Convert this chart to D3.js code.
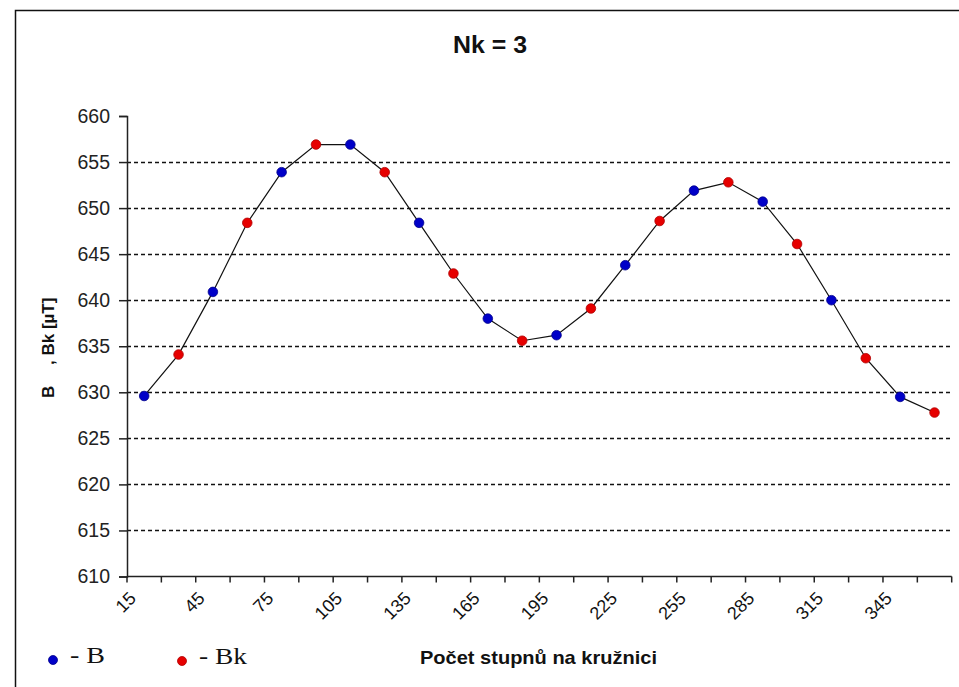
<!DOCTYPE html>
<html>
<head>
<meta charset="utf-8">
<script src="https://cdn.jsdelivr.net/npm/d3@7"></script>
<style>
  html, body { margin: 0; padding: 0; background: #fff; }
  svg { display: block; }
</style>
</head>
<body>
<svg id="chart" width="959" height="687"></svg>
<script>
// Angle on the circle (degrees), one category every 15°
const angles = [15, 30, 45, 60, 75, 90, 105, 120, 135, 150, 165, 180,
                195, 210, 225, 240, 255, 270, 285, 300, 315, 330, 345, 360];
// Measured field B (odd positions: 15, 45, 75, ...)
const valuesB  = [629.6, 640.9, 653.9, 656.9, 648.4, 638.0,
                  636.2, 643.8, 651.9, 650.7, 640.0, 629.5];
// Computed field Bk (even positions: 30, 60, 90, ...)
const valuesBk = [634.1, 648.4, 656.9, 653.9, 642.9, 635.6,
                  639.1, 648.6, 652.8, 646.1, 633.7, 627.8];
const yTicks = [610, 615, 620, 625, 630, 635, 640, 645, 650, 655, 660];
const xTickLabels = [15, 45, 75, 105, 135, 165, 195, 225, 255, 285, 315, 345];

const title = "Nk = 3";
const xTitle = "Počet stupnů na kružnici";

const colorB = "#0000c8";
const colorBk = "#e60000";

// Interleave both series along the angle axis
const points = angles.map((a, i) => ({
  angle: a,
  value: i % 2 === 0 ? valuesB[i / 2] : valuesBk[(i - 1) / 2],
  series: i % 2 === 0 ? "B" : "Bk"
}));

const svg = d3.select("#chart");

// Outer frame
svg.append("rect")
  .attr("x", 15.5).attr("y", 10.5)
  .attr("width", 1000).attr("height", 1000)
  .attr("fill", "#fff").attr("stroke", "#111").attr("stroke-width", 1.5);

const plot = { left: 127, right: 951.7, top: 116, bottom: 576.5 };

const x = d3.scaleBand().domain(angles).range([plot.left, plot.right]).padding(0);
const y = d3.scaleLinear().domain([610, 660]).range([plot.bottom, plot.top]);
const cx = d => x(d) + x.bandwidth() / 2;

// Dashed horizontal gridlines
svg.append("g")
  .selectAll("line")
  .data(yTicks.filter(t => t > 610 && t < 660))
  .join("line")
  .attr("x1", plot.left).attr("x2", plot.right)
  .attr("y1", d => Math.round(y(d)) + 0.5).attr("y2", d => Math.round(y(d)) + 0.5)
  .attr("stroke", "#111").attr("stroke-width", 1.3)
  .attr("stroke-dasharray", "4,3");

// Y axis
const yAxis = svg.append("g")
  .attr("transform", `translate(${plot.left},0)`)
  .call(d3.axisLeft(y).tickValues(yTicks).tickSize(8).tickPadding(9).tickFormat(d3.format("d")));
yAxis.select(".domain").attr("stroke", "#222").attr("stroke-width", 1.5);
yAxis.selectAll(".tick line").attr("stroke", "#222").attr("stroke-width", 1.5);
yAxis.selectAll(".tick text")
  .attr("font-family", "'Liberation Sans', Arial, sans-serif")
  .attr("font-size", 19.5).attr("fill", "#222");

// X axis: ticks on category boundaries
const boundaries = angles.map(a => x(a)).concat([plot.right]);
const xAxis = svg.append("g");
xAxis.append("line")
  .attr("x1", plot.left).attr("x2", plot.right)
  .attr("y1", plot.bottom).attr("y2", plot.bottom)
  .attr("stroke", "#222").attr("stroke-width", 1.5);
xAxis.selectAll("line.tk")
  .data(boundaries)
  .join("line").attr("class", "tk")
  .attr("x1", d => d).attr("x2", d => d)
  .attr("y1", plot.bottom).attr("y2", plot.bottom + 6)
  .attr("stroke", "#222").attr("stroke-width", 1.5);
xAxis.selectAll("text")
  .data(xTickLabels)
  .join("text")
  .attr("transform", d => `translate(${cx(d) - 7},${plot.bottom + 23}) rotate(-45)`)
  .attr("text-anchor", "end")
  .attr("font-family", "'Liberation Sans', Arial, sans-serif")
  .attr("font-size", 18).attr("fill", "#111")
  .text(d => d);

// Connecting line
svg.append("path")
  .datum(points)
  .attr("fill", "none").attr("stroke", "#111").attr("stroke-width", 1.2)
  .attr("d", d3.line().x(d => cx(d.angle)).y(d => y(d.value)));

// Markers
svg.append("g")
  .selectAll("circle")
  .data(points)
  .join("circle")
  .attr("cx", d => cx(d.angle)).attr("cy", d => y(d.value))
  .attr("r", 4.8)
  .attr("fill", d => d.series === "B" ? colorB : colorBk)
  .attr("stroke", d => d.series === "B" ? "#00008a" : "#b00000")
  .attr("stroke-width", 0.8);

// Title
svg.append("text")
  .attr("x", 490).attr("y", 53)
  .attr("text-anchor", "middle")
  .attr("font-family", "'Liberation Sans', Arial, sans-serif")
  .attr("font-size", 23).attr("font-weight", "bold").attr("fill", "#111")
  .attr("textLength", 74).attr("lengthAdjust", "spacingAndGlyphs")
  .text(title);

// Y axis title
const yTitle = svg.append("g")
  .attr("font-family", "'Liberation Sans', Arial, sans-serif")
  .attr("font-size", 17).attr("font-weight", "bold").attr("fill", "#111");
yTitle.append("text")
  .attr("transform", "translate(54,398) rotate(-90)")
  .text("B");
yTitle.append("text")
  .attr("transform", "translate(54,365) rotate(-90)")
  .text(", Bk [µT]");

// X axis title
svg.append("text")
  .attr("x", 420).attr("y", 664)
  .attr("font-family", "'Liberation Sans', Arial, sans-serif")
  .attr("font-size", 19).attr("font-weight", "bold").attr("fill", "#111")
  .attr("textLength", 237).attr("lengthAdjust", "spacingAndGlyphs")
  .text(xTitle);

// Legend
const legend = [
  { label: "- B", color: colorB, stroke: "#00008a", x: 53, y: 660, w: 35 },
  { label: "- Bk", color: colorBk, stroke: "#b00000", x: 182, y: 661, w: 48 }
];
const lg = svg.append("g").selectAll("g").data(legend).join("g");
lg.append("circle")
  .attr("cx", d => d.x).attr("cy", d => d.y).attr("r", 4.5)
  .attr("fill", d => d.color).attr("stroke", d => d.stroke).attr("stroke-width", 0.8);
lg.append("text")
  .attr("x", d => d.x + 17).attr("y", d => d.y + 3)
  .attr("font-family", "'Liberation Serif', 'Times New Roman', serif")
  .attr("font-size", 24).attr("fill", "#111")
  .attr("textLength", d => d.w).attr("lengthAdjust", "spacingAndGlyphs")
  .text(d => d.label);
</script>
</body>
</html>
